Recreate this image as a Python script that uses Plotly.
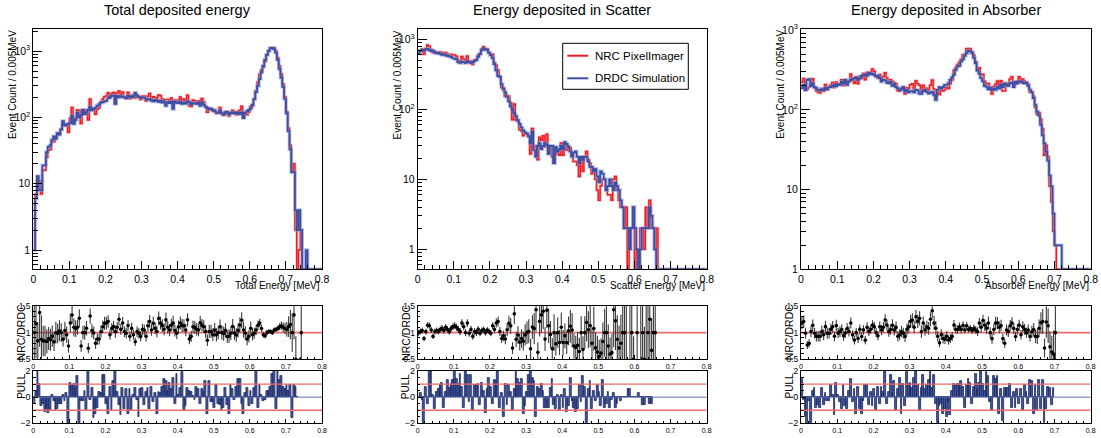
import numpy as np
import plotly.graph_objects as go

# ---------------- data (bin width 0.005 MeV, 160 bins from 0 to 0.8) ----------------
BIN = 0.005
NB = 160

total_drdc = [1, 6, 13, 8, 8, 19, 19, 30, 36, 38,
              46, 52, 48, 58, 55, 66, 88, 76, 78, 80,
              82, 106, 80, 92, 118, 100, 108, 130, 112, 120,
              130, 145, 128, 136, 140, 150, 158, 167, 170, 175,
              178, 195, 205, 212, 214, 160, 212, 200, 210, 205,
              200, 195, 212, 205, 200, 210, 236, 214, 205, 200,
              197, 200, 190, 185, 190, 180, 175, 185, 178, 172,
              180, 168, 175, 150, 170, 165, 172, 135, 175, 168,
              165, 172, 160, 168, 162, 175, 170, 158, 165, 162,
              160, 168, 150, 170, 155, 145, 140, 132, 135, 130,
              125, 120, 118, 128, 115, 110, 118, 122, 112, 118,
              115, 120, 115, 118, 112, 120, 98, 118, 125, 130,
              136, 155, 190, 240, 300, 380, 480, 600, 740, 880,
              1000, 1100, 1120, 1070, 950, 740, 540, 400, 290, 190,
              115, 62, 33, 15, 15, 4, 2, 4, 2, 0,
              0, 1]
total_ratio = [0.81, 1.14, 0.88, 1.43, 0.83, 0.85, 0.86, 0.83, 0.89, 0.86,
               0.93, 0.83, 0.99, 0.99, 1.04, 1.0, 0.88, 1.04, 0.96, 0.75,
               1.18, 1.33, 1.1, 1.08, 1.1, 1.27, 0.75, 1.0, 1.0, 1.08,
               0.71, 1.31, 1.04, 0.99, 0.8, 0.88, 0.88, 1.02, 1.11, 1.18,
               1.18, 1.21, 0.96, 1.08, 1.11, 1.02, 1.1, 1.25, 1.06, 1.18,
               1.02, 0.99, 1.13, 0.93, 1.08, 0.96, 0.83, 1.02, 0.99, 0.93,
               1.06, 1.05, 0.93, 1.13, 1.21, 1.05, 1.18, 1.08, 1.02, 1.27,
               1.18, 1.13, 1.06, 1.24, 1.1, 1.05, 1.14, 1.18, 1.04, 0.99,
               1.11, 1.18, 1.13, 1.13, 1.05, 1.24, 0.88, 0.93, 1.11, 1.1,
               1.06, 1.05, 1.19, 1.14, 1.11, 1.02, 0.86, 1.02, 1.02, 0.96,
               1.05, 0.96, 1.0, 1.11, 1.0, 0.98, 1.04, 0.93, 0.94, 0.99,
               1.11, 0.99, 0.96, 1.04, 1.14, 1.23, 1.05, 0.99, 0.88, 0.93,
               1.08, 0.96, 0.99, 1.05, 1.14, 1.18, 1.08, 0.96, 0.94, 1.0,
               1.02, 1.02, 1.0, 1.05, 1.06, 1.08, 1.11, 1.13, 1.1, 1.08,
               1.06, 1.11, 1.14, 0.99, 1.36, 0.5, 0, 0.25, 1.0]
total_pull = [-0.5, 0.5, 2.0, 1.0, -0.7, -0.5, -1.1, -0.9, -1.2, -1.0, 0.2, -0.3, -1.0,
              -0.9, -0.5, -0.5, 0.2, -0.3, 0.3, -2.0, 1.1, 0.9, 1.0, 0.7, 1.6,
              -2.0, -0.3, -0.3, 0.5, -1.0, 2.0, -0.2, 0.7, -1.6, -1.3, -0.8, 0.4,
              0.3, 1.7, 1.7, -0.5, -1.3, 0.8, -1.0, 1.2, 2.0,
              0.4, -0.6, -1.4, 0.7, -0.9, 0.6, -1.3, 0.6, -1.0, 0.2, 0.7, -0.2, -1.5,
              0.6, 0.7, -0.6, 0.4, 0.7, -0.9, 0.8, -0.4, 0.3, -1.3, 0.4, 0.3, 0.8,
              1.4, 1.2, 0.5, 1.1, 0.6, 1.5, -0.5, 1.8, 0.2, 0.7, 1.9,
              -1.0, -0.7, 0.7, 0.5, 0.4, 0.1, -0.2, 0.8, 0.6, -0.5, 0.6, 0.4, 1.2, -1.3,
              1.2, -0.4, -0.4, -0.8, 0.9, -0.5, -0.6,
              -1.0, -0.8, 0.7, -0.6, -1.3, 0.9, 0.6, -0.2, 0.8, 1.4, 1.4, -0.5, -1.3, 0.3, 0.7, -0.7,
              0.5, -0.5, 0.7, 2.0, -0.8, 0.9, 0.2, -0.3, -0.2, 0.5,
              0.5, 0.8, 1.8, 2.0, -0.9, 2.0, 1.3, 1.6, 0.8, 0.6,
              0.9, 0.5, 0.9, -1.6, 0.9, 0.8, 0.0]

scatter_drdc = [630, 680, 700, 690, 720, 730, 700, 680, 690, 650,
                630, 640, 620, 600, 610, 590, 580, 570, 560, 540,
                530, 520, 470, 460, 480, 470, 460, 490, 470, 460,
                470, 490, 510, 560, 620, 700, 740, 720, 700, 640,
                600, 540, 440, 360, 300, 290, 230, 200, 175, 150,
                130, 110, 100, 88, 80, 70, 62, 55, 50, 47,
                45, 41, 33, 48, 26, 21, 30, 33, 27, 30,
                33, 31, 23, 30, 30, 17, 29, 25, 27, 30,
                27, 34, 32, 29, 25, 21, 24, 25, 21, 17,
                21, 19, 21, 21, 18, 15, 15, 13, 14, 11,
                9, 13, 12, 10, 7, 8, 10, 8, 7, 9,
                8, 7, 5, 4, 2, 2, 2, 1, 2, 4,
                2, 1, 0, 1, 2, 2, 2, 2, 4, 3,
                2, 1, 0, 0]
scatter_ratio = [1.0, 1.02, 1.04, 0.89, 1.02, 1.14, 1.13, 1.05, 0.93, 1.02,
                 1.04, 1.02, 1.06, 1.08, 1.04, 1.1, 1.06, 1.02, 1.08, 1.11,
                 1.13, 1.1, 1.06, 1.02, 1.18, 1.11, 1.0, 1.18, 0.99, 1.06,
                 0.93, 1.02, 1.0, 1.06, 0.99, 1.04, 1.06, 1.0, 1.05, 1.02,
                 0.99, 1.13, 1.06, 1.18, 1.21, 1.02, 0.89, 0.94, 0.88, 1.05,
                 1.18, 1.13, 0.71, 1.35, 0.88, 0.96, 0.83, 0.89, 0.85, 0.96,
                 0.99, 1.02, 0.71, 1.11, 1.06, 1.41, 0.64, 1.21, 1.33, 1.41,
                 0.88, 1.43, 1.14, 0.96, 0.69, 1.0, 0.8, 0.99, 0.81, 1.11,
                 0.83, 0.94, 0.8, 1.02, 1.14, 1.06, 0.77, 0.71, 0.74, 0.64,
                 1.0, 0.71, 0.99, 1.19, 1.06, 1.11, 0.83, 1.05, 0.71, 0.64,
                 0.52, 0.58, 0.83, 0.99, 0.99, 0.8, 0.64, 0.61, 1.41, 1.18,
                 0.875, 0.71, 0.8, 1.0, 1.0, 2.0, 0, 2.0, 1.0, 0.5,
                 0, 1.0, 0, 2.0, 1.0, 0.5, 2.0, 1.0, 1.25, 0.67,
                 1.0, 1.0, 0, 0]
scatter_nrc_extra = {132: 2}   # NRC counts in bins where DRDC is empty
scatter_pull = [-0.1, 0.3, -0.2, -2.0, 0.8, -0.5, 2.0, 2.0, 0.2, -0.9, 0.4, 0.6, 0.9, 1.1, -0.8, 0.4, 1.3,
                0.7, 1.0, 1.3, 2.0, 1.4, 1.0, 1.8, 0.8, -0.8, 2.0, 1.7, -0.4, 1.7,
                -1.0, 0.9, 0.9, 1.0, -0.6, 1.1, 0.5, -1.2, 0.6, 1.5,
                0.8, -0.5, 1.3, 1.2, 2.0, -0.8, 0.3, -1.5, 1.0,
                -0.6, 0.9, 0.4, -1.0, 0.6, 2.0, 1.4, 1.1, 1.4, -1.3, -0.7, 0.4,
                1.7,
                2.0, 1.5, 1.2, -1.5, 0.8, 0.6, 1.0, 0.5, -0.8,
                -0.8, -0.8, 0.7, 1.4, -0.6, -0.9, 0.2, -1.0, 0.2, -0.8, 0.6, -1.1, -0.7,
                1.5, -0.3, -0.8, -1.1, -0.9, 0.9, -0.4,
                1.6, 0.8, -2.0, 0.6, 1.2, -0.9, 0.5, -0.3, 0.9, 0.4,
                -0.7, 1.3, -0.8, -0.5, 0.4, -0.8, -0.2, 0.3, -0.8,
                -0.5, 0.0, -0.3, 0.0, 0.0, 0.0, 0.6, 0.6, 0.0, 0.0, 0.0, 0.0, 0.3, 0.0, -0.6, -0.6, 0.0, 0.0, -0.5, -0.5]

absorber_drdc = [187, 205, 178, 238, 243, 200, 215, 193, 187, 178,
                 175, 181, 178, 187, 181, 193, 193, 198, 205, 198,
                 210, 205, 225, 215, 238, 205, 225, 238, 243, 250,
                 256, 238, 247, 266, 272, 278, 266, 290, 278, 284,
                 274, 262, 266, 250, 225, 238, 235, 220, 215, 225,
                 200, 210, 193, 187, 178, 181, 193, 170, 178, 165,
                 170, 172, 165, 178, 175, 160, 158, 172, 178, 168,
                 160, 163, 168, 154, 133, 178, 193, 187, 193, 205,
                 205, 215, 238, 255, 275, 317, 350, 355, 405, 430,
                 475, 515, 555, 540, 515, 450, 385, 310, 285, 250,
                 228, 200, 195, 181, 190, 178, 185, 178, 195, 185,
                 205, 193, 215, 205, 200, 215, 220, 193, 225, 215,
                 228, 228, 220, 215, 220, 200, 180, 165, 140, 115,
                 95, 85, 65, 48, 38, 30, 23, 15, 11, 5,
                 2, 2, 2, 2]
absorber_ratio = [1.18, 1.21, 0.99, 0.77, 0.8, 1.02, 1.14, 0.99, 0.93, 0.93,
                  0.93, 1.02, 0.96, 1.11, 0.99, 0.99, 1.06, 1.11, 0.93, 1.13,
                  0.99, 1.02, 1.06, 0.94, 0.99, 1.08, 1.02, 1.18, 0.96, 0.86,
                  1.0, 0.89, 1.06, 0.93, 1.05, 0.86, 1.1, 1.02, 1.06, 1.14,
                  1.11, 1.0, 0.94, 1.11, 1.05, 1.1, 1.24, 1.14, 1.02, 1.06,
                  1.14, 1.05, 1.1, 0.93, 0.96, 1.02, 0.99, 0.93, 1.06, 1.11,
                  1.21, 1.24, 1.1, 1.3, 1.21, 1.27, 1.02, 1.18, 1.05, 1.11,
                  1.08, 1.25, 1.41, 1.18, 1.08, 0.93, 0.81, 0.96, 0.89, 0.88,
                  0.93, 0.86, 0.89, 0.93, 1.14, 1.06, 1.06, 1.11, 1.06, 1.14,
                  1.05, 1.13, 1.06, 1.08, 1.04, 1.08, 1.05, 1.02, 1.18, 1.1,
                  1.23, 1.14, 1.08, 1.18, 1.0, 0.89, 1.06, 1.18, 1.18, 1.1,
                  1.13, 0.89, 0.8, 1.05, 1.02, 1.13, 1.18, 1.08, 0.93, 1.06,
                  1.14, 0.96, 1.11, 1.06, 1.0, 1.05, 0.93, 1.02, 1.06, 0.93,
                  0.93, 1.08, 1.18, 1.21, 0.71, 1.21, 1.11, 0.74, 0.64, 0.52,
                  1.0, 0, 0, 0]
absorber_pull = [1.4, -0.2, -1.5, -2.0, -0.3, -2.0, 0.5, 0.7, -0.8, -0.6, -0.8, 0.7, -0.6, 0.3,
                 -0.3, -0.3, 0.9, 0.2, -1.4,
                 1.1, 0.2, -0.4, -0.9, 0.9, -0.7, -0.9, 0.5, 1.4, -0.4, 0.6, -1.3, 0.8, -0.9,
                 -1.3, -0.3, 0.9, 0.9, -0.6, 0.4, -0.7, 0.6, -1.0, 0.8, -0.5,
                 0.8, 0.4, 2.0, -0.5, 0.4, 1.7, 0.3, 1.2, -1.0, 0.6,
                 1.5, -1.3,
                 1.0, -0.7, 1.9, 1.0, 1.1, 0.7, 1.5, 2.0, 0.9, -1.0, 0.7, 1.7, 0.6, 0.9, 1.3, 2.0, 0.7, 1.7,
                 -0.5, -2.0, -0.7, -0.5, -1.3, -0.9, -1.5, -0.4, -1.4, 0.5, 1.0, 0.9, 1.0,
                 0.9, 1.2, 0.8, -0.8, 0.9, 1.4, 1.1, -0.5, 0.8,
                 1.8, 0.6, 1.1, 2.0, 1.0, 0.5, 1.9, 1.6, -0.4, -1.0, 1.6, 1.4, 1.6, -1.3, 0.6, -1.8, 0.7, 0.7,
                 0.7, 1.0, -0.8, 0.4, -0.8,
                 0.6, -0.5, 0.6, -1.0, 0.9, 0.4, -0.5, 1.3, 1.2, -1.3, 0.9,
                 -1.0, 1.3, -0.9, 1.3, -2.0, -0.9, 0.8, 0.7, -0.6, 0.7]

titles = ["Total deposited energy", "Energy deposited in Scatter", "Energy deposited in Absorber"]
x_titles = ["Total Energy [MeV]", "Scatter Energy [MeV]", "Absorber Energy [MeV]"]
y_title = "Event Count / 0.005MeV"
legend_names = ["NRC PixelImager", "DRDC Simulation"]

# ---------------- layout geometry (pixels) ----------------
W, H = 1101, 438
def fx(p): return p / W
def fy(p): return 1 - p / H

frames_x = [(33.3, 322.0), (417.7, 706.7), (801.0, 1090.7)]
main_y = (29.3, 269.3)
ratio_y = (306.0, 359.3)
pull_y = (371.0, 423.3)
main_yrange = [[-0.29, 3.33], [-0.286, 3.143], [0.0, 3.01]]

RED = "#ee1c24"
RED_HALO = "rgba(240,130,130,0.45)"
BLUE = "#3a4fa3"
BLUE_HALO = "rgba(130,150,215,0.55)"
LINE_RED = "#f06a6a"
FONT = "Liberation Sans, Arial, Helvetica, sans-serif"

edges = np.arange(NB + 1) * BIN
centers = edges[:-1] + BIN / 2

def pad(a, n=NB):
    a = list(a)
    return np.array(a + [0] * (n - len(a)), dtype=float)

fig = go.Figure()
layout = dict(width=W, height=H, margin=dict(l=0, r=0, t=0, b=0, pad=0, autoexpand=False),
              paper_bgcolor="white", plot_bgcolor="white", showlegend=False,
              font=dict(family=FONT, color="black"))
annotations = []
shapes = []

minor_log = [v * 10 ** k for k in range(-1, 4) for v in range(2, 10)]
minor_log = [m for m in minor_log if m >= 0.5]

panels = [(total_drdc, total_ratio, total_pull, {}),
          (scatter_drdc, scatter_ratio, scatter_pull, scatter_nrc_extra),
          (absorber_drdc, absorber_ratio, absorber_pull, {})]

def tf(size):
    return dict(size=size, color="black", family=FONT)

for p, (drdc_l, ratio_l, pull_l, extra) in enumerate(panels):
    drdc = pad(drdc_l)
    ratio_read = pad(ratio_l)
    nrc = np.round(drdc * ratio_read)
    for k, v in extra.items():
        nrc[k] = v
    pull = pad(pull_l)

    im, ir, ip = p + 1, p + 4, p + 7
    x0, x1 = frames_x[p]
    ylo = 10 ** main_yrange[p][0]

    # ---- main histograms (step) ----
    xs = np.append(edges[:-1], edges[-1])
    for vals, col, halo, hw, cw in ((nrc, RED, RED_HALO, 3.0, 1.5), (drdc, BLUE, BLUE_HALO, 3.6, 1.7)):
        yv = np.maximum(vals, ylo * 1.001)
        ys = np.append(yv, yv[-1])
        fig.add_trace(go.Scatter(x=xs, y=ys, mode="lines", line=dict(color=halo, width=hw, shape="hv"),
                                 xaxis=f"x{im}", yaxis=f"y{im}", hoverinfo="skip"))
        fig.add_trace(go.Scatter(x=xs, y=ys, mode="lines", line=dict(color=col, width=cw, shape="hv"),
                                 xaxis=f"x{im}", yaxis=f"y{im}"))

    # ---- ratio ----
    valid = (drdc > 0) & (nrc > 0)
    r = np.where(valid, nrc / np.where(drdc > 0, drdc, 1), np.nan)
    re = np.where(valid, r * np.sqrt(1 / np.where(nrc > 0, nrc, 1) + 1 / np.where(drdc > 0, drdc, 1)), np.nan)
    fig.add_trace(go.Scatter(x=[0, 0.8], y=[1, 1], mode="lines", line=dict(color=LINE_RED, width=1.6),
                             xaxis=f"x{ir}", yaxis=f"y{ir}", hoverinfo="skip"))
    fig.add_trace(go.Scatter(x=centers[valid], y=r[valid], mode="markers",
                             marker=dict(color="black", size=3.6),
                             error_y=dict(type="data", array=re[valid], width=0, thickness=1.1, color="#3a3a3a"),
                             xaxis=f"x{ir}", yaxis=f"y{ir}"))

    # ---- pull ----
    npull = len(pull_l)
    fig.add_trace(go.Scatter(x=[0, 0.8], y=[0, 0], mode="lines", line=dict(color="#5a6fb8", width=1),
                             xaxis=f"x{ip}", yaxis=f"y{ip}", hoverinfo="skip"))
    fig.add_trace(go.Bar(x=centers[:npull], y=pull[:npull], width=BIN,
                         marker=dict(color="#3f5aa8", line=dict(color="#1d2556", width=0.8)),
                         xaxis=f"x{ip}", yaxis=f"y{ip}"))
    for yl in (1, -1):
        fig.add_trace(go.Scatter(x=[0, 0.8], y=[yl, yl], mode="lines", line=dict(color=LINE_RED, width=1.4),
                                 xaxis=f"x{ip}", yaxis=f"y{ip}", hoverinfo="skip"))

    # ---- axes ----
    xdom = [fx(x0), fx(x1)]
    common = dict(showline=True, mirror=True, linecolor="black", linewidth=1, showgrid=False,
                  zeroline=False, ticks="inside", tickcolor="black", automargin=False)
    layout[f"xaxis{im}"] = dict(domain=xdom, range=[0, 0.8], anchor=f"y{im}", dtick=0.1, tick0=0,
                                ticklen=8, tickfont=tf(10.5),
                                minor=dict(ticks="inside", dtick=0.02, ticklen=4, tickcolor="black"),
                                **common)
    layout[f"yaxis{im}"] = dict(domain=[fy(main_y[1]), fy(main_y[0])], type="log",
                                range=main_yrange[p], anchor=f"x{im}",
                                tickvals=[1, 10, 100, 1000], ticktext=["1", "10", "10<sup>2</sup>", "10<sup>3</sup>"],
                                ticklen=9, tickfont=tf(10.5),
                                minor=dict(ticks="inside", tickvals=minor_log, ticklen=4.5, tickcolor="black"),
                                **common)
    layout[f"xaxis{ir}"] = dict(domain=xdom, range=[0, 0.8], anchor=f"y{ir}", dtick=0.1, tick0=0,
                                ticklen=4, tickfont=tf(7),
                                minor=dict(ticks="inside", dtick=0.02, ticklen=2, tickcolor="black"),
                                **common)
    layout[f"yaxis{ir}"] = dict(domain=[fy(ratio_y[1]), fy(ratio_y[0])], range=[0.5, 1.5], anchor=f"x{ir}",
                                tickvals=[0.5, 1, 1.5], ticktext=["0.5", "1", "1.5"],
                                ticklen=5, tickfont=tf(8.5),
                                minor=dict(ticks="inside", dtick=0.1, ticklen=2.5, tickcolor="black"),
                                **common)
    layout[f"xaxis{ip}"] = dict(domain=xdom, range=[0, 0.8], anchor=f"y{ip}", dtick=0.1, tick0=0,
                                ticklen=4, tickfont=tf(7),
                                minor=dict(ticks="inside", dtick=0.02, ticklen=2, tickcolor="black"),
                                **common)
    layout[f"yaxis{ip}"] = dict(domain=[fy(pull_y[1]), fy(pull_y[0])], range=[-2, 2], anchor=f"x{ip}",
                                tickvals=[-2, 0, 2], ticktext=["\u22122", "0", "2"],
                                ticklen=5, tickfont=tf(9),
                                minor=dict(ticks="inside", dtick=0.5, ticklen=2.5, tickcolor="black"),
                                **common)

    # ---- texts ----
    cx = (x0 + x1) / 2
    annotations.append(dict(text=titles[p], x=fx(cx), y=fy(9.5), xref="paper", yref="paper",
                            xanchor="center", yanchor="middle", showarrow=False,
                            font=dict(size=14.5, family=FONT, color="black")))
    annotations.append(dict(text=x_titles[p], x=fx(x1), y=fy(285), xref="paper", yref="paper",
                            xanchor="right", yanchor="middle", showarrow=False,
                            font=dict(size=10, family=FONT, color="black")))
    annotations.append(dict(text=y_title, x=fx(x0 - 20), y=fy(main_y[0] - 1), xref="paper", yref="paper",
                            xanchor="center", yanchor="top", textangle=-90, showarrow=False,
                            font=dict(size=10, family=FONT, color="black")))
    annotations.append(dict(text="NRC/DRDC", x=fx(x0 - 12.5), y=fy((ratio_y[0] + ratio_y[1]) / 2),
                            xref="paper", yref="paper", xanchor="center", yanchor="middle", textangle=-90,
                            showarrow=False, font=dict(size=10.5, family=FONT, color="black")))
    annotations.append(dict(text="PULL", x=fx(x0 - 12), y=fy(pull_y[0] + 1), xref="paper", yref="paper",
                            xanchor="center", yanchor="top", textangle=-90, showarrow=False,
                            font=dict(size=10, family=FONT, color="black")))

# ---- legend (panel 2) ----
shapes.append(dict(type="rect", xref="paper", yref="paper", x0=fx(562.7), x1=fx(688.3),
                   y0=fy(89.3), y1=fy(43.3), line=dict(color="black", width=1), fillcolor="white", layer="above"))
for k, (yy, col) in enumerate(((55.7, RED), (78.3, BLUE))):
    shapes.append(dict(type="line", xref="paper", yref="paper", x0=fx(567.3), x1=fx(588.3),
                       y0=fy(yy), y1=fy(yy), line=dict(color=col, width=2), layer="above"))
    annotations.append(dict(text=legend_names[k], x=fx(593.3), y=fy(yy), xref="paper", yref="paper",
                            xanchor="left", yanchor="middle", showarrow=False,
                            font=dict(size=11.5, family=FONT, color="black")))

layout["annotations"] = annotations
layout["shapes"] = shapes
layout["bargap"] = 0
fig.update_layout(**layout)
fig.write_html("out.html", config={"displayModeBar": False},
               post_script="document.body.style.margin='0';document.body.style.overflow='hidden';")
